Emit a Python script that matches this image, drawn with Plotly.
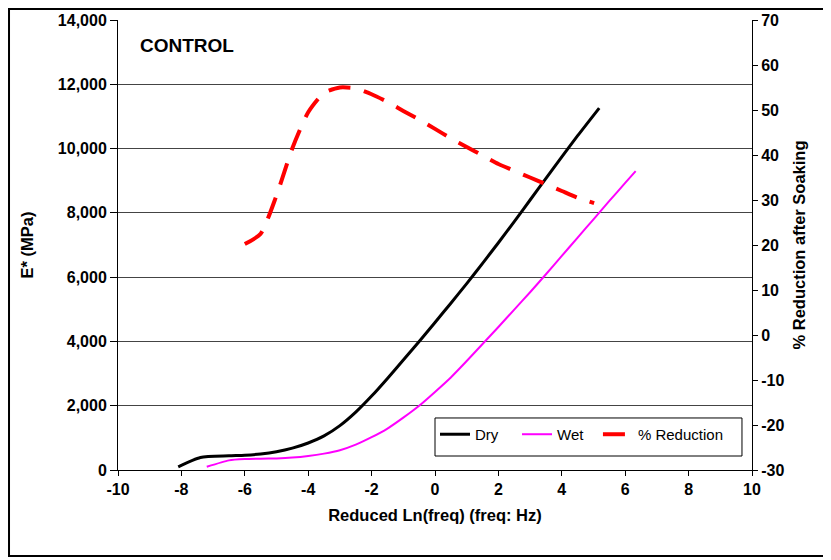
import plotly.graph_objects as go

# Data
dry_x = [-8.1, -7.4, -6.5, -6.0, -5.5, -5.0, -4.5, -4.0, -3.5, -3.0, -2.5, -2.0, -1.5, -1.0,
         -0.5, 0.0, 0.5, 1.0, 1.5, 2.0, 2.5, 3.0, 3.5, 4.0, 4.5, 5.18]
dry_e = [100, 390, 440, 460, 500, 570, 680, 840, 1060, 1380, 1800, 2300, 2850, 3420,
         4000, 4590, 5190, 5800, 6430, 7070, 7730, 8400, 9070, 9740, 10400, 11260]

wet_x = [-7.2, -6.5, -6.0, -5.5, -5.0, -4.5, -4.0, -3.5, -3.0, -2.5, -2.0, -1.5, -1.0,
         -0.5, 0.0, 0.5, 1.0, 1.5, 2.0, 2.5, 3.0, 3.5, 4.0, 4.5, 5.0, 5.5, 6.0, 6.33]
wet_e = [100, 300, 340, 350, 360, 385, 435, 510, 615, 790, 1020, 1290, 1630,
         2000, 2430, 2880, 3390, 3920, 4450, 4990, 5530, 6090, 6660, 7230, 7800, 8370, 8930, 9300]

red_x = [-6.0, -5.5, -5.0, -4.5, -4.0, -3.5, -3.0, -2.5, -2.0, -1.5, -1.0, -0.5, 0.0,
         0.5, 1.0, 1.5, 2.0, 2.5, 3.0, 3.5, 4.0, 4.5, 5.02]
red_r = [20.2, 22.5, 31.0, 41.5, 49.5, 53.8, 55.0, 54.8, 53.5, 51.8, 49.8, 47.9, 45.8,
         43.7, 41.8, 39.9, 38.0, 36.5, 35.0, 33.5, 32.0, 30.5, 29.3]

x_ticks = list(range(-10, 11, 2))
x_labels = [str(v) for v in x_ticks]
y_ticks = list(range(0, 14001, 2000))
y_labels = [f"{v:,}" for v in y_ticks]
y2_ticks = list(range(-30, 71, 10))
y2_labels = [str(v) for v in y2_ticks]

FONT = "Liberation Sans, Arial, sans-serif"
TICKFONT = dict(family=FONT, size=16, weight="bold", color="black")
TITLEFONT = dict(family=FONT, size=16.5, weight="bold", color="black")
LEGFONT = dict(family=FONT, size=15, color="black")

fig = go.Figure()
fig.add_trace(go.Scatter(x=dry_x, y=dry_e, name="Dry", mode="lines", legend="legend",
                         line=dict(color="black", width=3, shape="spline", smoothing=0.6)))
fig.add_trace(go.Scatter(x=wet_x, y=wet_e, name="Wet", mode="lines", legend="legend",
                         line=dict(color="#ff00ff", width=2, shape="spline", smoothing=0.6)))
fig.add_trace(go.Scatter(x=red_x, y=red_r, name="% Reduction", mode="lines", yaxis="y2",
                         legend="legend2",
                         line=dict(color="#ff0000", width=4, dash="22px,14px",
                                   shape="spline", smoothing=0.6)))

# the page body has an 8px margin, so the figure is sized/offset to compensate
fig.update_layout(
    width=823, height=552,
    margin=dict(l=110, r=79, t=12, b=90, autoexpand=False),
    paper_bgcolor="white", plot_bgcolor="white",
    font=dict(family=FONT, color="black", size=15),
    showlegend=True,
    legend=dict(orientation="h", x=0.5, y=0.1156, xanchor="left", yanchor="top",
                borderwidth=0, bgcolor="rgba(0,0,0,0)", entrywidth=37,
                font=LEGFONT, tracegroupgap=0),
    legend2=dict(orientation="h", x=0.757, y=0.1156, xanchor="left", yanchor="top",
                 borderwidth=0, bgcolor="rgba(0,0,0,0)",
                 font=LEGFONT, tracegroupgap=0),
    xaxis=dict(range=[-10, 10], tickvals=x_ticks, ticktext=x_labels, showgrid=False,
               zeroline=False, automargin=False,
               showline=True, linecolor="black", linewidth=1,
               ticks="outside", ticklen=5, tickcolor="black",
               tickfont=TICKFONT,
               title=dict(text="Reduced Ln(freq) (freq: Hz)", standoff=12, font=TITLEFONT)),
    yaxis=dict(range=[0, 14000], tickvals=y_ticks, ticktext=y_labels,
               showgrid=True, gridcolor="#444444", gridwidth=1, zeroline=False,
               automargin=False,
               showline=True, linecolor="black", linewidth=1,
               ticks="outside", ticklen=7, tickcolor="black",
               tickfont=TICKFONT,
               title=dict(text="E* (MPa)", standoff=20, font=TITLEFONT)),
    yaxis2=dict(range=[-30, 70], tickvals=y2_ticks, ticktext=y2_labels,
                overlaying="y", side="right", automargin=False,
                showgrid=False, zeroline=False,
                showline=True, linecolor="black", linewidth=1,
                ticks="outside", ticklen=5, tickcolor="black",
                tickfont=TICKFONT,
                title=dict(text="% Reduction after Soaking", standoff=10, font=TITLEFONT)),
    yaxis3=dict(range=[-30, 70], tickvals=y2_ticks, overlaying="y", side="right",
                anchor="x", automargin=False, showgrid=False, zeroline=False,
                showline=False, showticklabels=False,
                ticks="inside", ticklen=5, tickcolor="black"),
    annotations=[dict(text="<b>CONTROL</b>", xref="paper", yref="paper",
                      x=0.0315, y=0.944, xanchor="left", yanchor="middle",
                      showarrow=False, font=dict(family=FONT, size=19, color="black"))],
    shapes=[
        dict(type="rect", xref="paper", yref="paper",
             x0=-0.1719, x1=1.1183, y0=-0.1911, y1=1.0244,
             line=dict(color="black", width=2), fillcolor="rgba(0,0,0,0)"),
        dict(type="rect", xref="paper", yref="paper", layer="above",
             x0=0.5, x1=0.9842, y0=0.0311, y1=0.1156,
             line=dict(color="black", width=1), fillcolor="white"),
    ],
)

fig.write_html("out.html")
